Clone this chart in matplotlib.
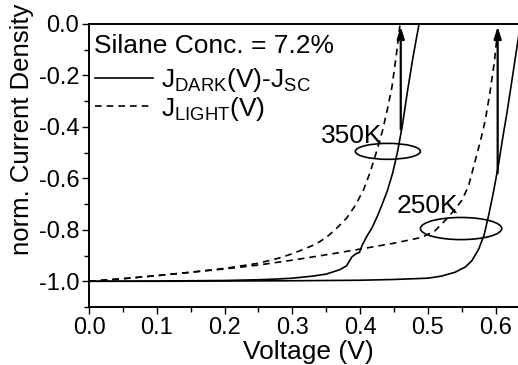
import numpy as np
import matplotlib
matplotlib.use('Agg')
import matplotlib.pyplot as plt
from matplotlib.patches import Ellipse
from matplotlib.ticker import MultipleLocator

plt.rcParams['font.family'] = ['Liberation Sans', 'DejaVu Sans']
plt.rcParams['mathtext.fontset'] = 'custom'
plt.rcParams['mathtext.rm'] = 'Liberation Sans'
plt.rcParams['mathtext.default'] = 'regular'

# 350K dark (J_DARK - J_SC), solid
v_dark_350 = [0, 0.1, 0.2, 0.25, 0.28, 0.3, 0.33, 0.35, 0.37, 0.38, 0.388, 0.394, 0.399,
              0.403, 0.41, 0.418, 0.425, 0.432, 0.44, 0.448, 0.455, 0.462, 0.47, 0.478, 0.487]
j_dark_350 = [-1.0, -0.999, -0.997, -0.994, -0.991, -0.988, -0.98, -0.972, -0.955, -0.94, -0.905,
              -0.893, -0.888, -0.86, -0.825, -0.79, -0.75, -0.705, -0.65, -0.58, -0.5, -0.40,
              -0.26, -0.13, 0.0]

# 350K light, dashed
v_light_350 = [0, 0.05, 0.1, 0.15, 0.2, 0.25, 0.28, 0.3, 0.32, 0.335, 0.35, 0.365, 0.38, 0.393,
               0.405, 0.415, 0.425, 0.433, 0.44, 0.447, 0.453, 0.459]
j_light_350 = [-1.0, -0.99, -0.978, -0.965, -0.95, -0.93, -0.91, -0.893, -0.872, -0.855, -0.83,
               -0.795, -0.755, -0.705, -0.645, -0.575, -0.49, -0.415, -0.335, -0.245, -0.13, 0.0]

# 250K dark, solid
v_dark_250 = [0, 0.1, 0.2, 0.3, 0.4, 0.45, 0.5, 0.52, 0.54, 0.555, 0.565, 0.575, 0.583, 0.59,
              0.597, 0.604, 0.61, 0.617, 0.624, 0.632, 0.64]
j_dark_250 = [-1.0, -1.0, -0.999, -0.998, -0.996, -0.993, -0.988, -0.98, -0.965, -0.945, -0.92,
              -0.875, -0.82, -0.74, -0.65, -0.55, -0.45, -0.34, -0.22, -0.08, 0.05]

# 250K light, dashed
v_light_250 = [0, 0.05, 0.1, 0.15, 0.2, 0.25, 0.3, 0.35, 0.4, 0.45, 0.49, 0.51, 0.527, 0.54,
               0.55, 0.56, 0.57, 0.578, 0.585, 0.592, 0.598, 0.604]
j_light_250 = [-1.0, -0.99, -0.978, -0.965, -0.952, -0.937, -0.918, -0.897, -0.875, -0.852, -0.83,
               -0.805, -0.76, -0.72, -0.686, -0.63, -0.53, -0.45, -0.37, -0.26, -0.15, 0.0]

# arrows (x, start y, end y)
arrow_v = [0.460, 0.603]
arrow_j0 = [-0.41, -0.58]
arrow_j1 = [-0.01, -0.01]

# ellipses marking the temperature pairs
ell_center = [(0.441, -0.495), (0.549, -0.795)]
ell_w = [0.096, 0.12]
ell_h = [0.062, 0.086]

temp_labels = ['350K', '250K']
temp_pos = [(0.343, -0.464), (0.454, -0.736)]

fig = plt.figure(figsize=(5.18, 3.65), dpi=100)
ax = fig.add_axes([89 / 518, 1 - 307 / 365, 1 - 89 / 518, (307 - 24) / 365])

dash = (0, (4, 3))
l1, = ax.plot(v_dark_350, j_dark_350, 'k-', lw=1.2)
l2, = ax.plot(v_light_350, j_light_350, color='k', ls=dash, lw=1.2)
ax.plot(v_dark_250, j_dark_250, 'k-', lw=1.2)
ax.plot(v_light_250, j_light_250, color='k', ls=dash, lw=1.2)

for v, j0, j1 in zip(arrow_v, arrow_j0, arrow_j1):
    ax.annotate('', xy=(v, j1), xytext=(v, j0),
                arrowprops=dict(arrowstyle='-|>,head_length=0.7,head_width=0.22',
                                lw=1.6, color='k', shrinkA=0, shrinkB=0))

for c, w, h in zip(ell_center, ell_w, ell_h):
    ax.add_patch(Ellipse(c, w, h, fill=False, lw=1.2, color='k'))

for t, p in zip(temp_labels, temp_pos):
    ax.text(p[0], p[1], t, fontsize=19, ha='left', va='baseline')

ax.text(0.012, 0.8975, 'Silane Conc. = 7.2%', transform=ax.transAxes,
        fontsize=19, ha='left', va='baseline')

ax.legend([l1, l2], [r'J$_{DARK}$(V)-J$_{SC}$', r'J$_{LIGHT}$(V)'],
          loc='upper left', bbox_to_anchor=(95 / 518, 1 - 66 / 365),
          bbox_transform=fig.transFigure, frameon=False, fontsize=19,
          handlelength=2.2, handletextpad=0.3, labelspacing=0.02,
          borderpad=0, borderaxespad=0)

ax.set_xlim(0, 0.633)
ax.set_ylim(-1.1, 0.0)
ax.xaxis.set_major_locator(MultipleLocator(0.1))
ax.xaxis.set_minor_locator(MultipleLocator(0.05))
ax.yaxis.set_major_locator(MultipleLocator(0.2))
ax.yaxis.set_minor_locator(MultipleLocator(0.1))
ax.xaxis.set_major_formatter(matplotlib.ticker.FormatStrFormatter('%.1f'))
ax.yaxis.set_major_formatter(matplotlib.ticker.FormatStrFormatter('%.1f'))
ax.tick_params(which='major', direction='out', length=5, width=1, labelsize=17, pad=2)
ax.tick_params(which='minor', direction='out', length=3.5, width=1)
ax.spines['right'].set_visible(False)
for s in ['top', 'left', 'bottom']:
    ax.spines[s].set_linewidth(1.4)

fig.text(308 / 518, 1 - 359 / 365, 'Voltage (V)', fontsize=19, ha='center', va='baseline')
fig.text(22 / 518, 1 - 129 / 365, 'norm. Current Density', fontsize=18.5,
         ha='center', va='center', rotation=90)

fig.savefig('out.png', dpi=100)
